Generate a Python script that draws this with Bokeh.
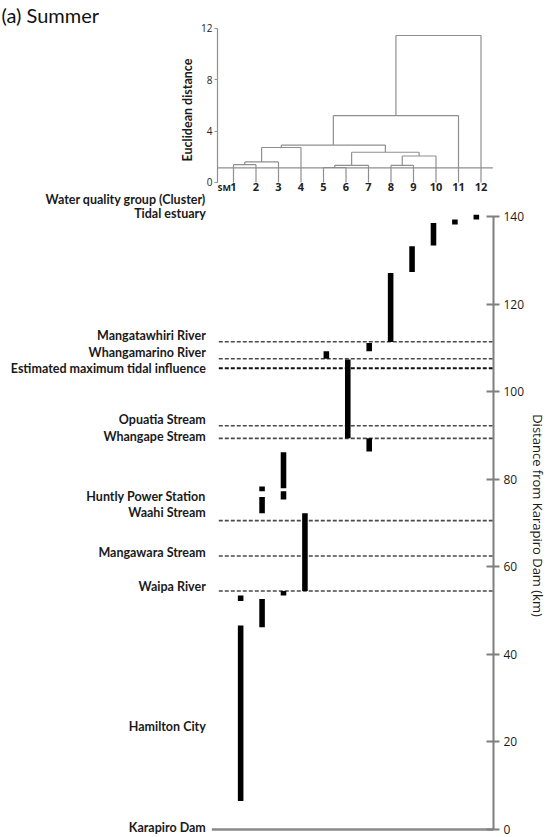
import math
from bokeh.plotting import figure
from bokeh.models import Range1d, FixedTicker
from bokeh.embed import file_html
from bokeh.resources import INLINE
from bokeh.core.properties import value

# ---------------- data ----------------
# Dendrogram (Euclidean distance) - leaves are the water-quality clusters
leaf_labels = ["1", "2", "3", "4", "5", "6", "7", "8", "9", "10", "11", "12"]
merge_left = [1, "m1", "m2", 5, "m4", 8, "m6", "m5", "m3", "m9", "m10"]
merge_right = [2, 3, 4, 6, 7, 9, 10, "m7", "m8", 11, 12]
merge_height = [1.38, 1.60, 2.72, 1.16, 1.33, 1.33, 2.06, 2.35, 2.91, 5.21, 11.45]
cut_height = 1.14
dendro_ticks = [0, 4, 8, 12]

# River reaches occupied by each cluster (km from Karapiro Dam)
bar_cluster = [1, 1, 2, 2, 2, 3, 3, 3, 4, 5, 6, 7, 7, 8, 9, 10, 11, 12]
bar_bottom = [6.5, 52.2, 46.2, 72.3, 77.3, 53.5, 75.4, 78.0, 54.5, 107.6, 89.4, 86.4, 109.3, 111.4, 127.4, 133.5, 138.3, 139.4]
bar_top = [46.6, 53.5, 52.7, 76.0, 78.4, 54.5, 77.3, 86.2, 72.3, 109.3, 107.4, 89.4, 111.2, 127.2, 133.3, 138.6, 139.4, 140.5]

# Tributary confluences / landmarks marked by dashed lines
line_names = ["Mangatawhiri River", "Whangamarino River", "Estimated maximum tidal influence",
              "Opuatia Stream", "Whangape Stream", "Waahi Stream", "Mangawara Stream", "Waipa River"]
line_km = [111.5, 107.6, 105.4, 92.3, 89.4, 70.6, 62.5, 54.5]

# Text labels on the left
label_names = ["Water quality group (Cluster)", "Tidal estuary", "Mangatawhiri River", "Whangamarino River",
               "Estimated maximum tidal influence", "Opuatia Stream", "Whangape Stream",
               "Huntly Power Station", "Waahi Stream", "Mangawara Stream", "Waipa River",
               "Hamilton City", "Karapiro Dam"]
label_km = [144.0, 140.8, 112.9, 109.0, 105.4, 93.7, 89.8, 76.2, 72.5, 63.3, 55.6, 23.5, 0.5]

distance_ticks = [0, 20, 40, 60, 80, 100, 120, 140]

# ---------------- styling ----------------
LBL_FONT = "Lato"
NUM_FONT = "Open Sans"
DGRAY = "#8f8f8f"

# ---------------- dendrogram ----------------
top = figure(width=550, height=193, x_range=Range1d(0.289, 12.733), y_range=Range1d(-0.865, 12.153),
             output_backend="svg", toolbar_location=None, x_axis_location=None,
             min_border_left=217, min_border_right=53, min_border_top=0, min_border_bottom=0,
             title="(a) Summer")
top.title.text_font = LBL_FONT
top.title.text_font_size = "20px"
top.title.text_font_style = "normal"
top.title.text_color = "#111111"
top.title.text_line_height = 0.7
top.title.align = "left"
top.title.offset = -216
top.title.standoff = 0
top.outline_line_color = None
top.grid.visible = False
ya = top.yaxis[0]
ya.bounds = (0, 12)
ya.ticker = FixedTicker(ticks=dendro_ticks)
ya.axis_line_color = DGRAY
ya.axis_line_width = 1.2
ya.major_tick_line_color = DGRAY
ya.major_tick_out = 3
ya.major_tick_in = 0
ya.minor_tick_line_color = None
ya.major_label_text_font = NUM_FONT
ya.major_label_text_font_size = "10px"
ya.major_label_text_color = "#222222"
ya.major_label_standoff = 2
ya.axis_label = "Euclidean distance"
ya.axis_label_text_font = LBL_FONT
ya.axis_label_text_font_size = "12.5px"
ya.axis_label_text_font_style = "bold"
ya.axis_label_text_color = "#1a1a1a"
ya.axis_label_standoff = 3

pos = {}
hgt = {}
for i, _ in enumerate(leaf_labels, start=1):
    pos[i] = i
    hgt[i] = 0.0
x0s, y0s, x1s, y1s = [], [], [], []
for k, (a, b, h) in enumerate(zip(merge_left, merge_right, merge_height), start=1):
    xa, xb = pos[a], pos[b]
    x0s += [xa, xb, xa]
    y0s += [hgt[a], hgt[b], h]
    x1s += [xa, xb, xb]
    y1s += [h, h, h]
    pos["m%d" % k] = (xa + xb) / 2.0
    hgt["m%d" % k] = h
top.segment(x0=x0s, y0=y0s, x1=x1s, y1=y1s, line_color=DGRAY, line_width=1.2)
# cut line
top.segment(x0=[0.289], y0=[cut_height], x1=[12.53], y1=[cut_height], line_color=DGRAY, line_width=1.2)

top.text(x=list(range(1, 13)), y=[-0.33] * 12, text=leaf_labels, text_align="center",
         text_baseline="middle", text_font=value(NUM_FONT), text_font_size="11px",
         text_color="#222222", text_font_style="bold")
top.text(x=[0.585], y=[-0.36], text=["SM"], text_align="center", text_baseline="middle",
         text_font=value(NUM_FONT), text_font_size="9px", text_color="#222222", text_font_style="bold")

# ---------------- distance chart ----------------
low = figure(width=550, height=644, x_range=Range1d(-10.208, 12.801), y_range=Range1d(-1.829, 145.37),
             output_backend="svg", toolbar_location=None, x_axis_location=None, y_axis_location="right",
             min_border_left=0, min_border_right=53, min_border_top=0, min_border_bottom=0)
low.outline_line_color = None
low.grid.visible = False
ra = low.yaxis[0]
ra.bounds = (0, 140)
ra.ticker = FixedTicker(ticks=distance_ticks)
ra.axis_line_color = "#7f7f7f"
ra.axis_line_width = 2
ra.major_tick_line_color = "#7f7f7f"
ra.major_tick_line_width = 2
ra.major_tick_in = 7
ra.major_tick_out = 6
ra.minor_tick_line_color = None
ra.major_label_text_font = NUM_FONT
ra.major_label_text_font_size = "12px"
ra.major_label_text_color = "#1a1a1a"
ra.major_label_standoff = 4
ra.axis_label = "Distance from Karapiro Dam (km)"
ra.axis_label_text_font = NUM_FONT
ra.axis_label_text_font_size = "13px"
ra.axis_label_text_font_style = "normal"
ra.axis_label_text_color = "#1a1a1a"
ra.axis_label_standoff = 2

line_colors = ["#111111" if "tidal" in n else "#4a4a4a" for n in line_names]
line_widths = [2.0 if "tidal" in n else 1.6 for n in line_names]
low.segment(x0=[-0.02] * len(line_km), x1=[12.8] * len(line_km), y0=line_km, y1=line_km,
            line_color=line_colors, line_width=line_widths, line_dash="4 2")
low.segment(x0=[-0.347], x1=[12.8], y0=[0], y1=[0], line_color="#8a8a8a", line_width=2.5)

low.vbar(x=bar_cluster, bottom=bar_bottom, top=bar_top, width=0.26, fill_color="black", line_color=None)

low.text(x=[-0.625] * len(label_names), y=label_km, text=label_names, text_align="right",
         text_baseline="middle", text_font=value(LBL_FONT), text_font_size="12.5px",
         text_font_style="bold", text_color="#1a1a1a")

open("out.html", "w").write(file_html([top, low], INLINE))
